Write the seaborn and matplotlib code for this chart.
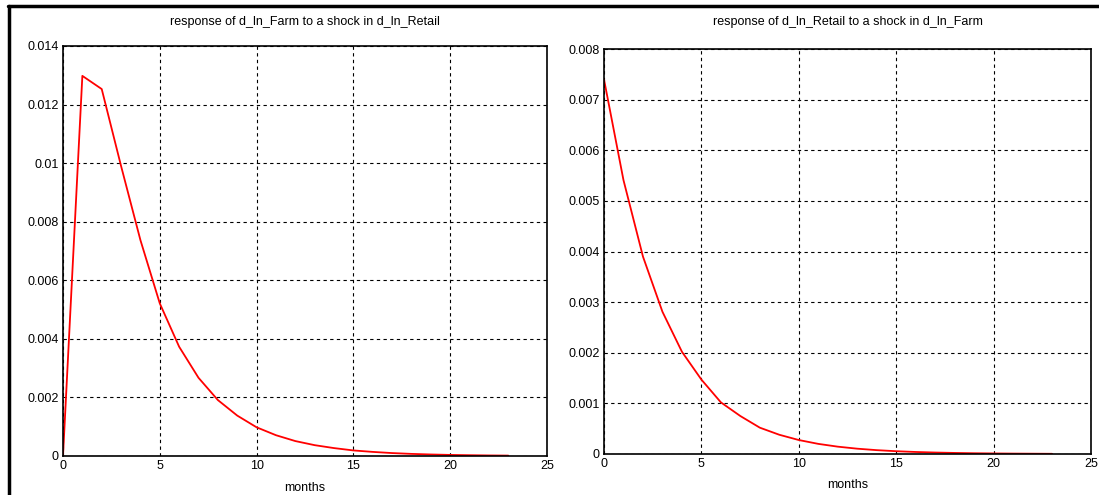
import matplotlib
matplotlib.use("Agg")
import matplotlib.pyplot as plt
import seaborn as sns
import pandas as pd
from matplotlib.ticker import FuncFormatter, MultipleLocator
from matplotlib.lines import Line2D

months = list(range(24))
farm_resp = [0.0, 0.01298, 0.01253, 0.0099, 0.00737, 0.00521, 0.00373, 0.00267,
             0.00191, 0.00138, 0.00098, 0.00071, 0.00051, 0.00037, 0.00027,
             0.00019, 0.00014, 0.00010, 0.000072, 0.000052, 0.000037,
             0.000027, 0.000019, 0.000014]
retail_resp = [0.0074, 0.00541, 0.0039, 0.00281, 0.00202, 0.00147, 0.00102,
               0.00075, 0.00052, 0.00038, 0.000276, 0.0002, 0.000145, 0.000105,
               0.000076, 0.000055, 0.00004, 0.000029, 0.000021, 0.000015,
               0.000011, 0.000008, 0.000006, 0.000004]
titles = ["response of d_ln_Farm to a shock in d_ln_Retail",
          "response of d_ln_Retail to a shock in d_ln_Farm"]
xlabel = "months"

sns.set_theme(style="white")
plt.rcParams['font.family'] = ['Liberation Sans Narrow', 'Liberation Sans', 'DejaVu Sans']

fig = plt.figure(figsize=(10.99, 4.95), dpi=100)
ax1 = fig.add_axes([63/1099, 1-456/495, (547-63)/1099, (456-46)/495])
ax2 = fig.add_axes([604/1099, 1-454/495, (1091-604)/1099, (454-49)/495])

fmt = FuncFormatter(lambda v, p: "0" if abs(v) < 1e-12 else f"{v:g}")

for ax, vals, title, ymax, ystep, tpad, lpad in [
        (ax1, farm_resp, titles[0], 0.014, 0.002, 15, 7),
        (ax2, retail_resp, titles[1], 0.008, 0.001, 17, 6)]:
    df = pd.DataFrame({"months": months, "value": vals})
    sns.lineplot(data=df, x="months", y="value", ax=ax, color="#ff0000", linewidth=1.3)
    ax.set_xlim(0, 25)
    ax.set_ylim(0, ymax)
    ax.xaxis.set_major_locator(MultipleLocator(5))
    ax.yaxis.set_major_locator(MultipleLocator(ystep))
    ax.yaxis.set_major_formatter(fmt)
    ax.grid(True, color="black", linestyle=(0, (3, 3)), linewidth=0.8)
    for s in ax.spines.values():
        s.set_color("black")
        s.set_linewidth(1.2)
    ax.tick_params(axis="both", length=0, labelsize=9, colors="black", pad=3)
    ax.set_title(title, fontsize=9, pad=tpad, color="black")
    ax.set_xlabel(xlabel, fontsize=9, labelpad=lpad, color="black")
    ax.set_ylabel("")

# outer frame lines (top and left)
fig.add_artist(Line2D([8/1099, 1.0], [1-6/495, 1-6/495], transform=fig.transFigure,
                      color="black", linewidth=2.5))
fig.add_artist(Line2D([9/1099, 9/1099], [0, 1-6/495], transform=fig.transFigure,
                      color="black", linewidth=2.5))

fig.savefig("out.png", dpi=100)
